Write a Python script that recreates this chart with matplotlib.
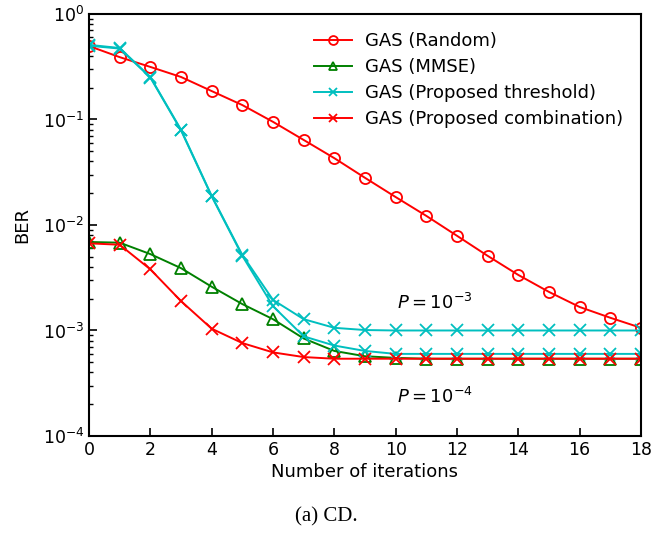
import matplotlib
matplotlib.use("Agg")
import matplotlib.pyplot as plt
import numpy as np

iters = list(range(19))
ber_random = [0.497, 0.39, 0.315, 0.253, 0.186, 0.137, 0.095, 0.064, 0.043, 0.028,
              0.0184, 0.0122, 0.0079, 0.0051, 0.00336, 0.00232, 0.00167, 0.00132, 0.00106]
ber_mmse = [0.0069, 0.0068, 0.0053, 0.0039, 0.0026, 0.00178, 0.00128, 0.00084, 0.00064,
            0.00057, 0.00055, 0.00054, 0.00054, 0.00054, 0.00054, 0.00054, 0.00054, 0.00054, 0.00054]
ber_thr_p3 = [0.51, 0.476, 0.253, 0.08, 0.0189, 0.0052, 0.00195, 0.00128, 0.00106, 0.00101,
              0.001, 0.001, 0.001, 0.001, 0.001, 0.001, 0.001, 0.001, 0.001]
ber_thr_p4 = [0.50, 0.47, 0.25, 0.079, 0.0187, 0.0051, 0.0017, 0.00088, 0.00072, 0.00064,
              0.0006, 0.0006, 0.0006, 0.0006, 0.0006, 0.0006, 0.0006, 0.0006, 0.0006]
ber_comb = [0.0067, 0.0065, 0.0038, 0.0019, 0.00104, 0.00076, 0.00062, 0.00056, 0.00054,
            0.00054, 0.00054, 0.00054, 0.00054, 0.00054, 0.00054, 0.00054, 0.00054, 0.00054, 0.00054]

fig = plt.figure(figsize=(6.53, 5.38), dpi=100)
ax = fig.add_axes([0.1363, 0.1896, 0.8453, 0.7844])

lw = 1.4
ms = 8
ax.semilogy(iters, ber_random, color='red', marker='o', mfc='none', ms=ms, mew=1.3, lw=lw, label='GAS (Random)')
ax.semilogy(iters, ber_mmse, color='green', marker='^', mfc='none', ms=ms, mew=1.3, lw=lw, label='GAS (MMSE)')
ax.semilogy(iters, ber_thr_p3, color='#00BFBF', marker='x', ms=ms, mew=1.3, lw=lw, label='GAS (Proposed threshold)')
ax.semilogy(iters, ber_thr_p4, color='#00BFBF', marker='x', ms=ms, mew=1.3, lw=lw)
ax.semilogy(iters, ber_comb, color='red', marker='x', ms=ms, mew=1.3, lw=lw, label='GAS (Proposed combination)')

ax.set_xlim(0, 18)
ax.set_ylim(1e-4, 1)
ax.set_xticks(range(0, 19, 2))
ax.tick_params(axis='both', which='both', direction='in', labelsize=12.5, top=False, right=False)
ax.tick_params(axis='both', which='major', length=6, width=1.2)
ax.tick_params(axis='y', which='minor', length=3, width=1)
for s in ax.spines.values():
    s.set_linewidth(1.5)

ax.set_xlabel('Number of iterations', fontsize=13, labelpad=3)
ax.set_ylabel('BER', fontsize=13, labelpad=8)

ax.text(10.04, 1.82e-3, r'$P = 10^{-3}$', fontsize=13, ha='left', va='center')
ax.text(10.04, 2.34e-4, r'$P = 10^{-4}$', fontsize=13, ha='left', va='center')

leg = ax.legend(loc='upper right', frameon=False, fontsize=13, handlelength=2.1,
                bbox_to_anchor=(1.0, 1.0), borderaxespad=0.6, labelspacing=0.45,
                markerscale=0.8, handletextpad=0.7)

fig.text(0.5, 0.039, '(a) CD.', fontsize=15, ha='center', va='center', family='Liberation Serif')

fig.savefig('out.png', dpi=100)
